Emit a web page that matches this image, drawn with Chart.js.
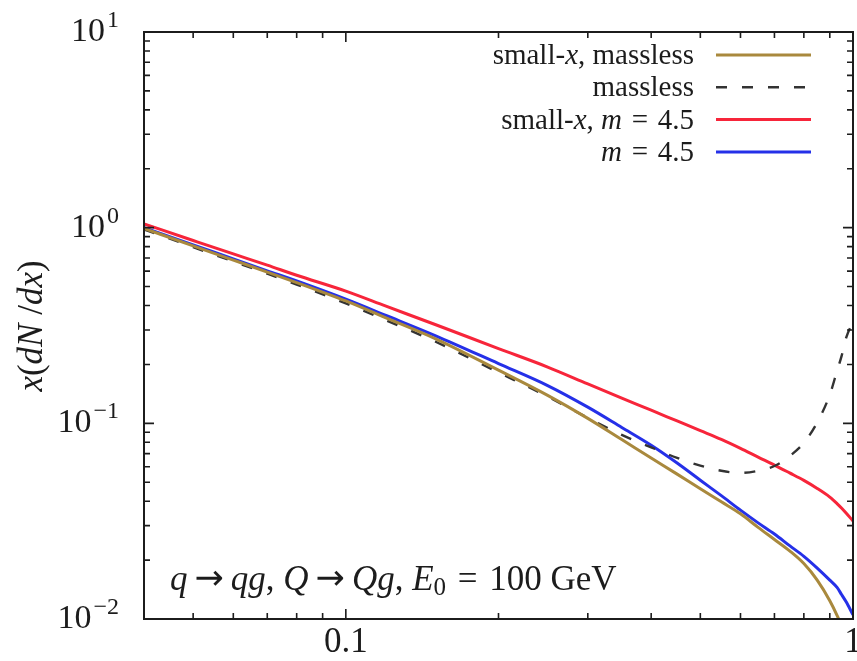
<!DOCTYPE html>
<html>
<head>
<meta charset="utf-8">
<script src="https://cdn.jsdelivr.net/npm/chart.js@4.4.1/dist/chart.umd.min.js"></script>
<style>
  body { margin: 0; background: #fff; }
  canvas { display: block; }
</style>
</head>
<body>
<canvas id="mycanvas" width="857" height="661"></canvas>
<script>
// x grid shared by all four curves
var xs = [0.04, 0.05, 0.06, 0.07, 0.08, 0.1, 0.12, 0.15, 0.2, 0.25, 0.3, 0.35, 0.4,
          0.45, 0.5, 0.55, 0.6, 0.65, 0.7, 0.75, 0.8, 0.85, 0.9, 0.93, 0.95, 0.97, 1.0];

var smallxMassless = [0.99, 0.807, 0.683, 0.593, 0.524, 0.422, 0.346, 0.271, 0.187, 0.139, 0.106,
                      0.0826, 0.0665, 0.055, 0.0463, 0.0397, 0.0345, 0.0294, 0.0255, 0.0223, 0.0192,
                      0.0158, 0.0124, 0.01045, 0.0092, null, null];
var massless = [0.98, 0.795, 0.672, 0.582, 0.512, 0.41, 0.336, 0.262, 0.182, 0.137, 0.1067,
                0.0873, 0.0754, 0.0666, 0.0608, 0.0572, 0.0558, 0.0572, 0.0605, 0.068, 0.0795,
                0.101, 0.14, 0.185, 0.222, 0.275, 0.33];
var smallxM45 = [1.045, 0.86, 0.734, 0.643, 0.571, 0.474, 0.397, 0.32, 0.241, 0.194, 0.159,
                 0.1346, 0.1167, 0.1028, 0.0918, 0.0828, 0.0745, 0.0672, 0.0612, 0.0558, 0.0511,
                 0.0465, 0.042, 0.0389, 0.0368, 0.0347, 0.0317];
var m45 = [1.0, 0.817, 0.692, 0.602, 0.534, 0.431, 0.356, 0.281, 0.202, 0.156, 0.121,
           0.0953, 0.0773, 0.0627, 0.0512, 0.0427, 0.036, 0.031, 0.0272, 0.0237, 0.0209,
           0.0182, 0.0158, 0.0145, 0.0133, 0.0122, 0.0105];

var yTickExp = [1, 0, -1, -2];
var xTickLabels = [[0.1, '0.1'], [1, '1']];

var FONT = '"Liberation Serif", "Times New Roman", serif';
var ARROWFONT = '"DejaVu Sans", sans-serif';
var INK = '#1c1c1c';
var GOLD = '#a9893d', RED = '#f7253a', BLUE = '#2530e8', DASH = '#333333';

function pts(vals) {
  var out = [];
  for (var i in xs) out.push({x: xs[i], y: vals[i]});
  return out;
}

// draw a row of text pieces: [text, italic?, size scale, y shift, family]
function setFont(ctx, p, size) {
  ctx.font = (p[1] ? 'italic ' : '') + Math.round(size * (p[2] || 1)) + 'px ' + (p[4] || FONT);
}
function runs(ctx, parts, x, y, size, align) {
  var w = 0;
  parts.forEach(function(p) {
    setFont(ctx, p, size);
    w += ctx.measureText(p[0]).width;
  });
  var cx = align === 'right' ? x - w : (align === 'center' ? x - w / 2 : x);
  parts.forEach(function(p) {
    setFont(ctx, p, size);
    ctx.fillText(p[0], cx, y + (p[3] || 0));
    cx += ctx.measureText(p[0]).width;
  });
}

var EQ = ' \u200a=\u200a ';
var legendRows = [
  {parts: [['small-'], ['x', true], [', massless']], color: GOLD, dash: []},
  {parts: [['massless']], color: DASH, dash: [11, 15]},
  {parts: [['small-'], ['x', true], [', '], ['m', true], [EQ + '4.5']], color: RED, dash: []},
  {parts: [['m', true], [EQ + '4.5']], color: BLUE, dash: []}
];

var framePlugin = {
  id: 'frame',
  afterDraw: function(chart) {
    var ctx = chart.ctx, a = chart.chartArea;
    var xs_ = chart.scales.x, ys_ = chart.scales.y;
    ctx.save();
    ctx.strokeStyle = INK;
    ctx.lineWidth = 2;
    ctx.strokeRect(a.left, a.top, a.right - a.left, a.bottom - a.top);

    ctx.lineWidth = 1.6;
    ctx.beginPath();
    // x ticks on bottom and top, pointing inward
    for (var d = -2; d <= 0; d++) {
      for (var k = 1; k <= 9; k++) {
        var v = k * Math.pow(10, d);
        if (v < 0.04 - 1e-9 || v > 1 + 1e-9) continue;
        var px = xs_.getPixelForValue(v);
        var len = k === 1 ? 10 : 6;
        ctx.moveTo(px, a.bottom); ctx.lineTo(px, a.bottom - len);
        ctx.moveTo(px, a.top); ctx.lineTo(px, a.top + len);
      }
    }
    // y ticks on left and right
    for (var e = -2; e <= 1; e++) {
      for (var j = 1; j <= 9; j++) {
        var val = j * Math.pow(10, e);
        if (val > 10 + 1e-9) continue;
        var py = ys_.getPixelForValue(val);
        var l2 = j === 1 ? 10 : 6;
        ctx.moveTo(a.left, py); ctx.lineTo(a.left + l2, py);
        ctx.moveTo(a.right, py); ctx.lineTo(a.right - l2, py);
      }
    }
    ctx.stroke();

    ctx.fillStyle = INK;
    ctx.textBaseline = 'alphabetic';
    // y tick labels 10^n
    yTickExp.forEach(function(n) {
      var py = ys_.getPixelForValue(Math.pow(10, n));
      var sup = n < 0 ? '\u2212' + (-n) : String(n);
      runs(ctx, [['10'], ['\u200a' + sup, false, 0.7, -14]], 119, py + 9, 34, 'right');
    });
    // x tick labels
    xTickLabels.forEach(function(t) {
      runs(ctx, [[t[1]]], xs_.getPixelForValue(t[0]), 652, 35, 'center');
    });

    // axis title
    ctx.save();
    ctx.translate(42, 326);
    ctx.rotate(-Math.PI / 2);
    runs(ctx, [['x', true], ['('], ['dN', true], [' /'], ['dx', true], [')']], 0, 0, 35, 'center');
    ctx.restore();

    // legend, text right aligned with line sample on the right
    legendRows.forEach(function(r, i) {
      var y = 55 + i * 32.3;
      ctx.fillStyle = INK;
      runs(ctx, r.parts, 694, y + 9, 29, 'right');
      ctx.strokeStyle = r.color;
      ctx.lineWidth = r.dash.length ? 2.6 : 3;
      ctx.setLineDash(r.dash);
      ctx.beginPath();
      ctx.moveTo(716, y); ctx.lineTo(811, y);
      ctx.stroke();
      ctx.setLineDash([]);
    });

    // process label
    ctx.fillStyle = INK;
    var ARR = ['\u2009\u2192\u2009', false, 1, -1, ARROWFONT];
    runs(ctx, [['q', true], ARR, ['qg', true], [', '], ['Q', true], ARR, ['Qg', true],
               [', '], ['E', true], ['0', false, 0.7, 5], [EQ + '100 GeV']], 170, 590, 35, 'left');
    ctx.restore();
  }
};

var ctx = document.getElementById('mycanvas').getContext('2d');

var chartdata = {
  datasets: [
    {label: 'small-x, massless', data: pts(smallxMassless), borderColor: GOLD, borderWidth: 3},
    {label: 'massless', data: pts(massless), borderColor: DASH, borderWidth: 2.4, borderDash: [11, 15]},
    {label: 'small-x, m = 4.5', data: pts(smallxM45), borderColor: RED, borderWidth: 3},
    {label: 'm = 4.5', data: pts(m45), borderColor: BLUE, borderWidth: 3}
  ]
};

var plot = new Chart(ctx, {
  type: 'line',
  data: chartdata,
  options: {
    responsive: false,
    animation: false,
    devicePixelRatio: 1,
    spanGaps: false,
    elements: {
      point: {radius: 0},
      line: {cubicInterpolationMode: 'monotone', fill: false}
    },
    layout: {padding: {left: 144, right: 4, top: 32, bottom: 42}},
    plugins: {legend: {display: false}, tooltip: {enabled: false}},
    scales: {
      x: {
        type: 'logarithmic', min: 0.04, max: 1,
        grid: {display: false}, border: {display: false}, ticks: {display: false},
        afterFit: function(s) { s.height = 0; }
      },
      y: {
        type: 'logarithmic', min: 0.01, max: 10,
        grid: {display: false}, border: {display: false}, ticks: {display: false},
        afterFit: function(s) { s.width = 0; }
      }
    }
  },
  plugins: [framePlugin]
});
</script>
</body>
</html>
